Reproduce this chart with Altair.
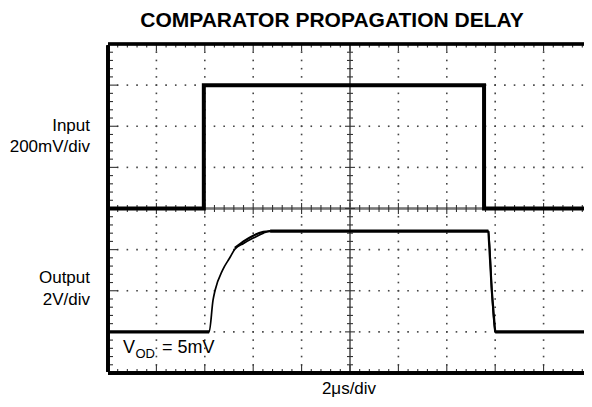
import altair as alt
import numpy as np
import pandas as pd

# ---- data (oscilloscope divisions: x 0..10, y -4..4) ----
in_t = [0, 1.98, 1.98, 7.77, 7.77, 10]
in_v = [0, 0, 3.0, 3.0, 0, 0]

out_t = [0, 2.09, 2.17, 2.21, 2.37, 2.51, 2.62, 2.80, 3.00, 3.21, 3.35, 7.86, 7.93, 8.00, 10]
out_v = [-3, -3, -2.23, -2.0, -1.49, -1.21, -0.99, -0.85, -0.72, -0.60, -0.55, -0.55, -2.0, -3.0, -3]

out2_t = [2.62, 2.80, 3.00, 3.21, 3.35]
out2_v = [-0.96, -0.80, -0.66, -0.57, -0.55]

h_grid = [-3, -2, -1, 1, 2, 3]
v_grid = [1, 2, 3, 4, 6, 7, 8, 9]

title_text = "COMPARATOR PROPAGATION DELAY"
in_label = ["Input", "200mV/div"]
out_label = ["Output", "2V/div"]
time_label = "2\u03bcs/div"

# visible part of the 10-division screen (right edge is cut off in the picture)
XMAX = 9.835

# ---- tables ----
xt = np.round(np.arange(0, 10.001, 0.2), 2)
yt = np.round(np.arange(-4, 4.001, 0.2), 2)
xticks = pd.DataFrame({"x": xt, "major": np.isclose(xt, np.round(xt))})
yticks = pd.DataFrame({"y": yt, "major": np.isclose(yt, np.round(yt))})

dots = []
for g in h_grid:
    for x in xt[1:-1]:
        dots.append({"x": float(x), "y": g})
for g in v_grid:
    for y in yt[1:-1]:
        dots.append({"x": g, "y": float(y)})
dots = pd.DataFrame(dots)

inp = pd.DataFrame({"t": in_t, "v": in_v, "i": range(len(in_t))})
out = pd.DataFrame({"t": out_t, "v": out_v, "i": range(len(out_t))})
out2 = pd.DataFrame({"t": out2_t, "v": out2_v, "i": range(len(out2_t))})

xs = alt.Scale(domain=[0, XMAX], nice=False, zero=False)
ys = alt.Scale(domain=[-4, 4], nice=False, zero=False)


def X(f):
    return alt.X(f, type="quantitative", scale=xs, axis=None)


def Y(f):
    return alt.Y(f, type="quantitative", scale=ys, axis=None)


def XD(v):
    return alt.XDatum(v, type="quantitative", scale=xs, axis=None)


def YD(v):
    return alt.YDatum(v, type="quantitative", scale=ys, axis=None)


FONT = "Liberation Sans"
TICK = "#333333"

layers = []

# dotted graticule
layers.append(
    alt.Chart(dots).mark_square(size=2.6, color="#444444", opacity=1, strokeWidth=0, clip=True)
    .encode(x=X("x"), y=Y("y"))
)

# center axes
layers.append(alt.Chart(inp).mark_rule(color="#777777", strokeWidth=1.4)
              .encode(x=XD(0), x2=alt.X2Datum(XMAX), y=YD(0)))
layers.append(alt.Chart(inp).mark_rule(color="#777777", strokeWidth=1.4)
              .encode(y=YD(-4), y2=alt.Y2Datum(4), x=XD(5)))

# center axis ticks
for major, half in [(False, 3.5), (True, 5.5)]:
    flt = "datum.major" if major else "!datum.major"
    layers.append(
        alt.Chart(xticks).transform_filter(flt)
        .mark_rule(color=TICK, strokeWidth=1.1, yOffset=-half, y2Offset=half, clip=True)
        .encode(x=X("x"), y=YD(0), y2=alt.Y2Datum(0))
    )
    layers.append(
        alt.Chart(yticks).transform_filter(flt)
        .mark_rule(color=TICK, strokeWidth=1.1, xOffset=-half + 0.5, x2Offset=half - 0.5)
        .encode(y=Y("y"), x=XD(5), x2=alt.X2Datum(5))
    )

# border ticks (pointing inward)
for major, top_len, bot_len, left_len in [(False, 3.5, 4, 5), (True, 7.5, 8, 10)]:
    flt = "datum.major" if major else "!datum.major"
    layers.append(
        alt.Chart(xticks).transform_filter(flt)
        .mark_rule(color=TICK, strokeWidth=1.1, y2Offset=top_len, clip=True)
        .encode(x=X("x"), y=YD(4), y2=alt.Y2Datum(4))
    )
    layers.append(
        alt.Chart(xticks).transform_filter(flt)
        .mark_rule(color=TICK, strokeWidth=1.1, y2Offset=-bot_len, clip=True)
        .encode(x=X("x"), y=YD(-4), y2=alt.Y2Datum(-4))
    )
    layers.append(
        alt.Chart(yticks).transform_filter(flt)
        .mark_rule(color=TICK, strokeWidth=1.1, x2Offset=left_len)
        .encode(y=Y("y"), x=XD(0), x2=alt.X2Datum(0))
    )

# frame (top, bottom, left; right edge is outside the picture)
layers.append(alt.Chart(inp).mark_rule(color="black", strokeWidth=2.6)
              .encode(x=XD(0), x2=alt.X2Datum(XMAX), y=YD(4)))
layers.append(alt.Chart(inp).mark_rule(color="black", strokeWidth=3)
              .encode(x=XD(0), x2=alt.X2Datum(XMAX), y=YD(-4)))
layers.append(alt.Chart(inp).mark_rule(color="black", strokeWidth=3, yOffset=-1.3, y2Offset=1.5)
              .encode(x=XD(0), y=YD(-4), y2=alt.Y2Datum(4)))

# traces
layers.append(
    alt.Chart(inp).mark_line(color="black", strokeWidth=4, strokeJoin="miter", strokeCap="butt", clip=True)
    .encode(x=X("t"), y=Y("v"), order="i:Q")
)
layers.append(
    alt.Chart(out).mark_line(color="black", strokeWidth=1.7, interpolate="monotone", clip=True)
    .encode(x=X("t"), y=Y("v"), order="i:Q")
)
layers.append(
    alt.Chart(out2).mark_line(color="black", strokeWidth=2.2, interpolate="monotone")
    .encode(x=X("t"), y=Y("v"), order="i:Q")
)
for lo, hi in [(0, 2.09), (3.35, 7.86), (8.0, 10)]:
    layers.append(
        alt.Chart(out).transform_filter(f"datum.t >= {lo} && datum.t <= {hi}")
        .mark_line(color="black", strokeWidth=3.4, strokeCap="butt", clip=True)
        .encode(x=X("t"), y=Y("v"), order="i:Q")
    )
layers.append(
    alt.Chart(out).transform_filter("datum.t >= 7.86 && datum.t <= 8.0")
    .mark_line(color="black", strokeWidth=2.2)
    .encode(x=X("t"), y=Y("v"), order="i:Q")
)

# texts
one = alt.InlineData(values=[{}])


def txt(s, x, y, size=17, align="left", weight="normal"):
    return alt.Chart(one).mark_text(
        text=s, align=align, baseline="alphabetic", font=FONT, fontSize=size,
        fontWeight=weight, color="black"
    ).encode(x=alt.value(x), y=alt.value(y))


layers.append(txt(title_text, 224, -17.5, size=21, align="center", weight="bold"))
layers.append(txt(in_label[0], -18, 87, align="right"))
layers.append(txt(in_label[1], -18, 108, align="right"))
layers.append(txt(out_label[0], -18, 239, align="right"))
layers.append(txt(out_label[1], -18, 261, align="right"))
layers.append(txt(time_label, 241, 350, align="center"))
layers.append(txt("V", 15, 309, size=18))
layers.append(txt("OD", 27.5, 313.5, size=13))
layers.append(txt("= 5mV", 54, 309, size=18))

chart = alt.layer(*layers).properties(
    width=476, height=329,
    padding={"left": 100, "top": 36, "right": 0, "bottom": 26},
    autosize=alt.AutoSizeParams(type="none"),
    background="white",
).configure_view(stroke=None)

chart.save("out.html", embed_options={"renderer": "svg", "actions": False})
